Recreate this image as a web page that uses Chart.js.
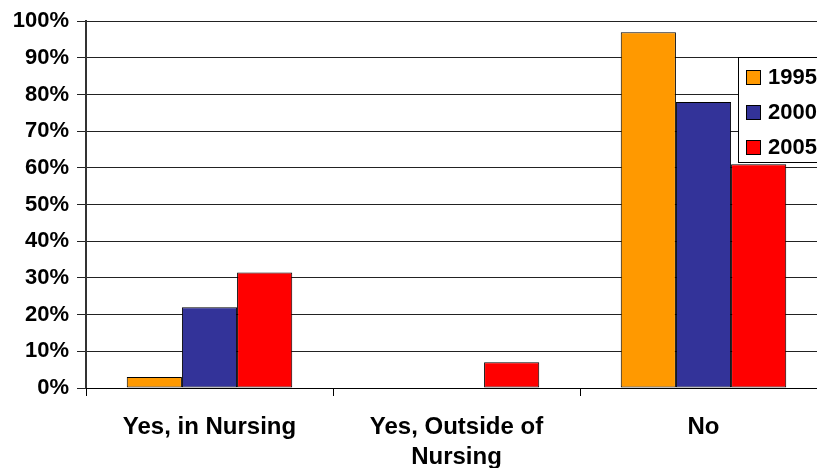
<!DOCTYPE html>
<html>
<head>
<meta charset="utf-8">
<script src="https://cdn.jsdelivr.net/npm/chart.js@4"></script>
<style>
    html, body { margin: 0; padding: 0; background: #fff; overflow: hidden; }
    #wrap { width: 840px; height: 468px; }
</style>
</head>
<body>
<div id="wrap"><canvas id="myChart" width="840" height="468"></canvas></div>
<script>
const categories = [['Yes, in Nursing'], ['Yes, Outside of', 'Nursing'], ['No']];
const years = ['1995', '2000', '2005'];
const values1995 = [3, 0, 97];
const values2000 = [22, 0, 78];
const values2005 = [31.5, 7, 61];
const yTicks = [0, 10, 20, 30, 40, 50, 60, 70, 80, 90, 100];

const colors = ['#FF9900', '#333399', '#FF0000'];
const fontFamily = '"Liberation Sans", Arial, sans-serif';

// legend box sits on top of the plot, cut by the right edge
const boxLegend = {
    id: 'boxLegend',
    afterDraw: (chart) => {
        const { ctx } = chart;
        const x = 738, y = 57, w = 110, h = 105;
        ctx.save();
        ctx.fillStyle = '#fff';
        ctx.fillRect(x, y, w, h);
        ctx.strokeStyle = '#000';
        ctx.lineWidth = 1;
        ctx.strokeRect(x + 0.5, y + 0.5, w, h);
        ctx.font = 'bold 22px ' + fontFamily;
        ctx.textBaseline = 'middle';
        chart.data.datasets.forEach((ds, i) => {
            const cy = 77 + i * 35;
            ctx.fillStyle = ds.backgroundColor;
            ctx.fillRect(746, cy - 7, 15, 15);
            ctx.strokeStyle = '#000';
            ctx.strokeRect(746.5, cy - 6.5, 14, 14);
            ctx.fillStyle = '#000';
            ctx.fillText(ds.label, 768, cy + 1);
        });
        ctx.restore();
    }
};

const datasets = [values1995, values2000, values2005].map((vals, i) => ({
    label: years[i],
    data: vals,
    backgroundColor: colors[i],
    borderColor: '#000',
    borderWidth: 1,
    borderSkipped: false,
    categoryPercentage: 0.67,
    barPercentage: 1
}));

new Chart(document.getElementById('myChart'), {
    type: 'bar',
    data: { labels: categories, datasets: datasets },
    options: {
        responsive: false,
        animation: false,
        layout: { padding: { top: 20, right: 13, left: 0, bottom: 0 } },
        plugins: {
            legend: { display: false },
            tooltip: { enabled: false }
        },
        scales: {
            y: {
                min: 0,
                max: 100,
                afterBuildTicks: (axis) => {
                    axis.ticks = yTicks.map(v => ({ value: v }));
                },
                afterFit: (axis) => { axis.width = 86; },
                ticks: {
                    callback: (v) => v + '%',
                    color: '#000',
                    font: { family: fontFamily, size: 22, weight: 'bold' },
                    padding: 8
                },
                grid: { color: '#222', lineWidth: 1, tickLength: 9 },
                border: { color: '#333', width: 2 }
            },
            x: {
                afterFit: (axis) => { axis.height = 80; },
                ticks: {
                    color: '#000',
                    font: { family: fontFamily, size: 24, weight: 'bold', lineHeight: 1.25 },
                    padding: 16,
                    maxRotation: 0,
                    autoSkip: false
                },
                grid: { drawOnChartArea: false, drawTicks: true, tickLength: 8, color: '#000' },
                border: { color: '#000', width: 1 }
            }
        }
    },
    plugins: [boxLegend]
});
</script>
</body>
</html>
